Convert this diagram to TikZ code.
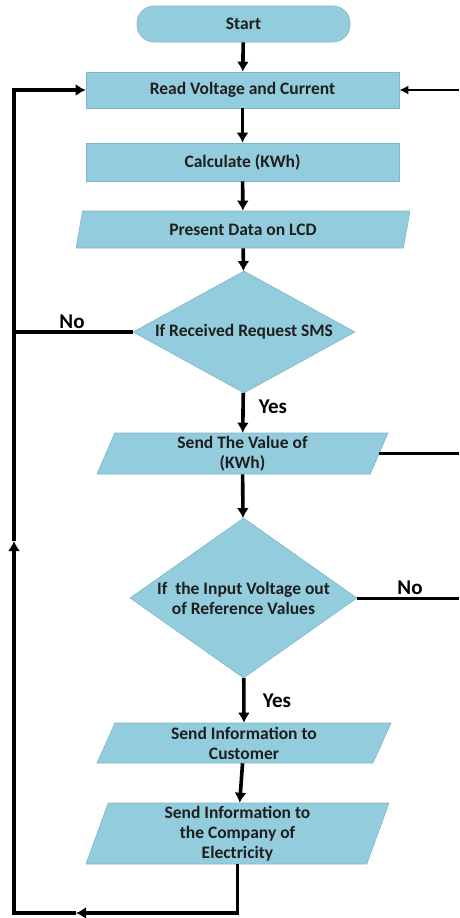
\documentclass[tikz,border=0pt]{standalone}
\usepackage{fontspec}
\setmainfont{Carlito}
\usetikzlibrary{arrows.meta,positioning,calc,shapes.geometric}
\definecolor{aqua}{HTML}{93CDDD}
\definecolor{edge}{HTML}{7FB6C6}
\definecolor{ink}{HTML}{1E1E1E}
\tikzset{box/.style={draw=edge,line width=0.6pt,fill=aqua,align=center,font=\fontsize{17.5}{20}\selectfont\bfseries,text=ink,inner sep=0pt},
rect/.style={box,rectangle,minimum width=313,minimum height=36},
term/.style={box,rectangle,rounded corners=17,minimum width=213,minimum height=36},
io/.style={box,trapezium,trapezium stretches body,trapezium left angle=#1,trapezium right angle=180-#1},
test/.style={box,diamond},
flow/.style={-{Latex[length=10pt,width=12pt]},line width=3.6pt,draw=black},
link/.style={line width=3.6pt,draw=black},
lab/.style={font=\fontsize{21}{24}\selectfont\bfseries,text=black}}
\begin{document}
\begin{tikzpicture}[x=1pt,y=-1pt]
\useasboundingbox (0,0) rectangle (459,918);
\node[term] (start) at (243.5,24) {Start};
\node[rect] (read) at (242.5,90) {Read Voltage and Current};
\node[rect,minimum height=38] (calc) at (242.5,162) {Calculate (KWh)};
\node[io=60,minimum width=334,minimum height=37] (lcd) at (243,229.5) {Present Data on LCD};
\node[test,shape aspect=1.82,minimum width=222,minimum height=122] (sms) at (244,332) {If Received Request SMS};
\node[io=63,minimum width=291,minimum height=41] (kwh) at (242.5,453.5) {Send The Value of\\(KWh)};
\node[test,shape aspect=1.42,minimum width=227,minimum height=160] (volt) at (243.5,598) {If\ \ the Input Voltage out\\of Reference Values};
\node[io=61,minimum width=294,minimum height=40] (cust) at (244,743) {Send Information to\\Customer};
\node[io=68,minimum width=303,minimum height=61] (comp) at (237.5,833.5) {Send Information to\\the Company of\\Electricity};
\coordinate (rr) at (459,0);
\coordinate (ll) at (14,0);
\coordinate (bl) at (14,913);
\coordinate (ba) at (76,913);
\coordinate (ua) at (14,541);
\draw[flow](start)--(read);\draw[flow](read)--(calc);\draw[flow](calc)--(lcd);\draw[flow](lcd)--(sms);
\draw[flow](sms)--(kwh);\draw[flow](kwh)--(volt);\draw[flow](volt)--(cust);\draw[flow](cust)--(comp);
\draw[flow](comp.south)|-(ba);\draw[flow](ba)--(bl)--(ua);\draw[flow](ua)|-(read.west);
\draw[link](sms.west)--(sms.west-|ll);
\draw[-{Latex[length=9pt,width=9pt]},line width=2.2pt](read.east-|rr)--(read.east);
\draw[link,line width=3pt](kwh.east)--(kwh.east-|rr);
\draw[link,line width=3pt](volt.east)--(volt.east-|rr);
\node[lab] (no1) at (72,322) {No};
\node[lab] (yes1) at (273,407) {Yes};
\node[lab] (no2) at (410,588) {No};
\node[lab] (yes2) at (277,701) {Yes};
\end{tikzpicture}
\end{document}
